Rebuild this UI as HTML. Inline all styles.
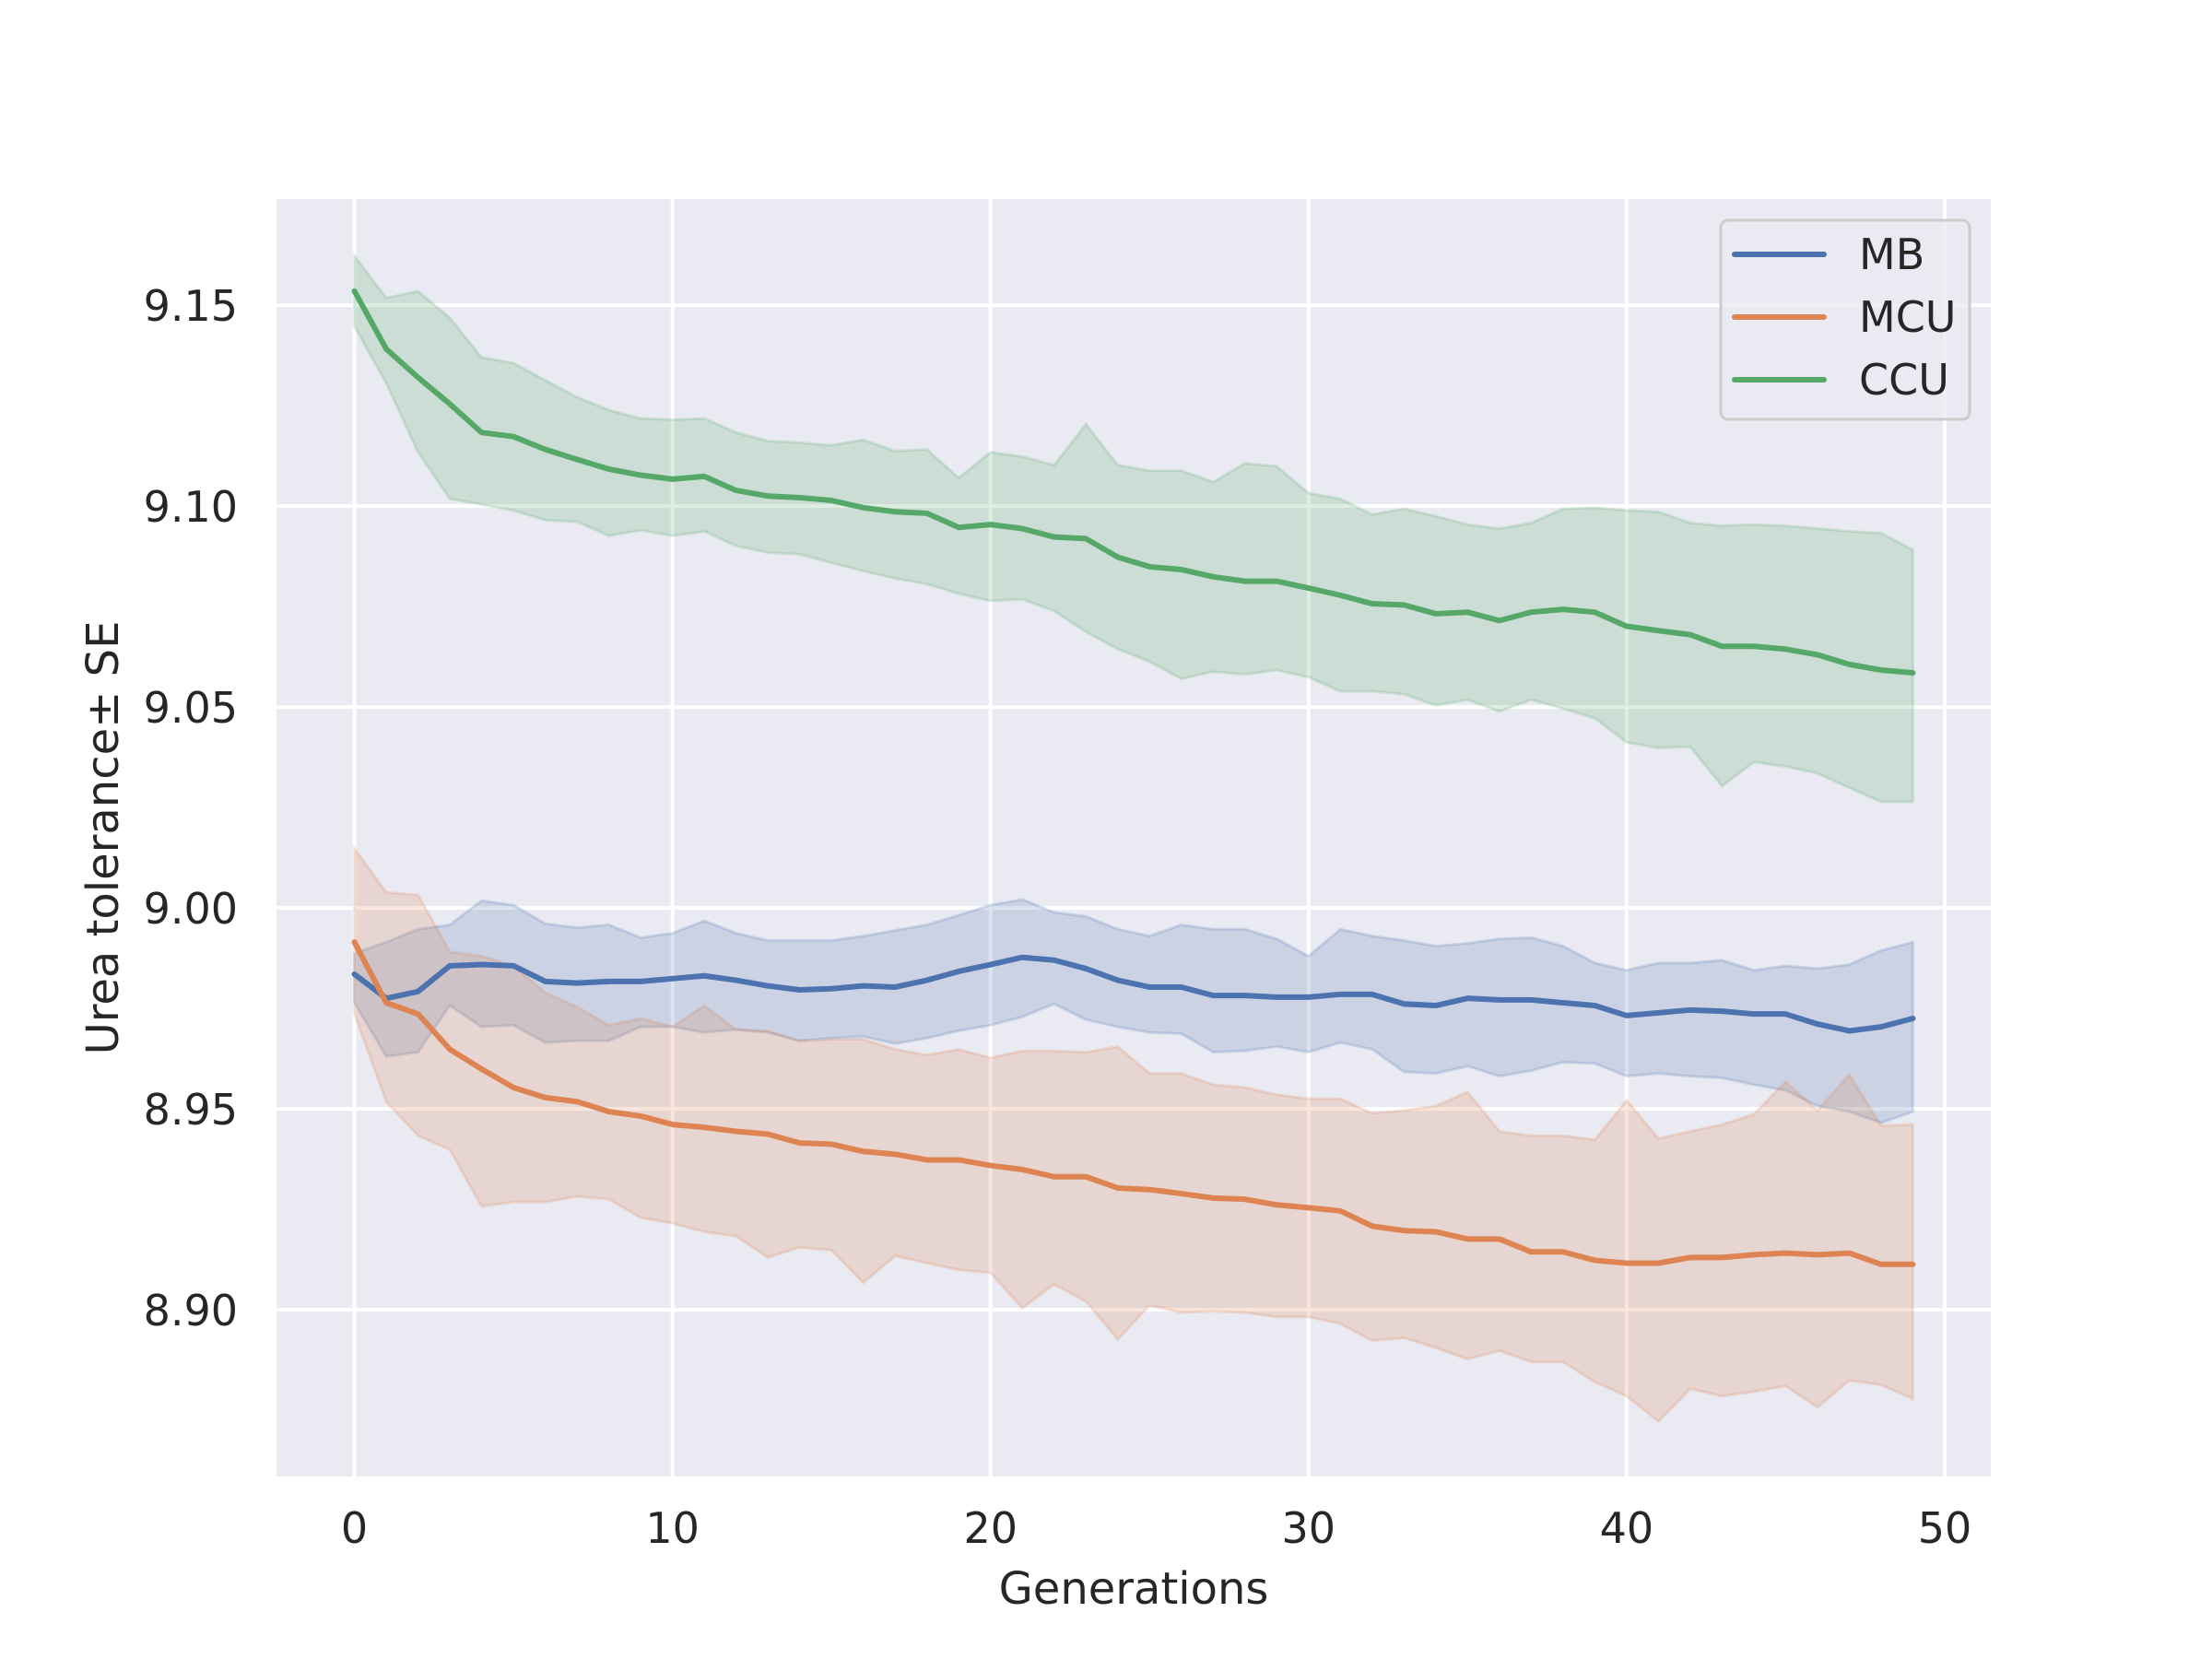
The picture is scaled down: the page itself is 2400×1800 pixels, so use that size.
<!DOCTYPE html>
<html><head><meta charset="utf-8"><style>
html,body{margin:0;padding:0;background:#fff;}
svg{display:block;font-family:"DejaVu Sans","Liberation Sans",sans-serif;}
</style></head><body>
<svg id="chart" width="2400" height="1800" viewBox="0 0 2400 1800" xmlns="http://www.w3.org/2000/svg">
<rect x="300" y="216" width="1860" height="1386" fill="#eaeaf2"/>
<g id="grid"></g><g id="bands"></g><g id="lines"></g><g id="ticks"></g>
<text x="1230" y="1740" font-size="48" fill="#262626" text-anchor="middle">Generations</text>
<text transform="translate(128,909) rotate(-90)" font-size="48" fill="#262626" text-anchor="middle">Urea tolerance± SE</text>
<g>
<rect x="1867" y="239" width="270" height="216" rx="8" fill="#eaeaf2" fill-opacity="0.8" stroke="#cccccc" stroke-width="3"/>
<line x1="1882" y1="276" x2="1979" y2="276" stroke="#4c72b0" stroke-width="6" stroke-linecap="round"/>
<text x="2017" y="292" font-size="46" fill="#262626">MB</text>
<line x1="1882" y1="344" x2="1979" y2="344" stroke="#dd8452" stroke-width="6" stroke-linecap="round"/>
<text x="2017" y="360" font-size="46" fill="#262626">MCU</text>
<line x1="1882" y1="412" x2="1979" y2="412" stroke="#55a868" stroke-width="6" stroke-linecap="round"/>
<text x="2017" y="428" font-size="46" fill="#262626">CCU</text>
</g>
</svg>
<script>
const xTicks=[0,10,20,30,40,50];
const yTicks=[8.90,8.95,9.00,9.05,9.10,9.15];
const yTickLabels=["8.90","8.95","9.00","9.05","9.10","9.15"];
const ccuMean=[9.1535,9.1391,9.1320,9.1254,9.1183,9.1173,9.1141,9.1116,9.1092,9.1077,9.1067,9.1074,9.1039,9.1025,9.1021,9.1014,9.0996,9.0986,9.0982,9.0947,9.0954,9.0944,9.0923,9.0919,9.0873,9.0849,9.0842,9.0824,9.0813,9.0813,9.0796,9.0778,9.0757,9.0754,9.0732,9.0736,9.0715,9.0736,9.0743,9.0736,9.0701,9.0690,9.0680,9.0651,9.0651,9.0644,9.0630,9.0606,9.0592,9.0585];
const ccuUpper=[9.1623,9.1518,9.1535,9.1468,9.1370,9.1356,9.1313,9.1271,9.1239,9.1218,9.1215,9.1218,9.1183,9.1162,9.1158,9.1151,9.1165,9.1137,9.1141,9.1070,9.1134,9.1123,9.1102,9.1204,9.1102,9.1088,9.1088,9.1060,9.1106,9.1099,9.1032,9.1018,9.0979,9.0993,9.0975,9.0954,9.0944,9.0958,9.0993,9.0996,9.0989,9.0986,9.0958,9.0951,9.0954,9.0951,9.0944,9.0937,9.0933,9.0891];
const ccuLower=[9.1447,9.1306,9.1134,9.1018,9.1004,9.0989,9.0965,9.0961,9.0926,9.0940,9.0926,9.0937,9.0901,9.0884,9.0880,9.0859,9.0838,9.0820,9.0806,9.0782,9.0764,9.0768,9.0739,9.0687,9.0644,9.0613,9.0570,9.0588,9.0581,9.0592,9.0574,9.0539,9.0539,9.0532,9.0504,9.0518,9.0489,9.0518,9.0496,9.0472,9.0412,9.0398,9.0401,9.0303,9.0363,9.0352,9.0335,9.0299,9.0264,9.0264];
const mbMean=[8.9835,8.9775,8.9792,8.9856,8.9859,8.9856,8.9817,8.9813,8.9817,8.9817,8.9824,8.9831,8.9820,8.9806,8.9796,8.9799,8.9806,8.9803,8.9820,8.9842,8.9859,8.9877,8.9870,8.9849,8.9820,8.9803,8.9803,8.9782,8.9782,8.9778,8.9778,8.9785,8.9785,8.9761,8.9757,8.9775,8.9771,8.9771,8.9764,8.9757,8.9732,8.9739,8.9746,8.9743,8.9736,8.9736,8.9711,8.9694,8.9704,8.9725];
const mbUpper=[8.9887,8.9915,8.9947,8.9958,9.0018,9.0007,8.9961,8.9951,8.9958,8.9926,8.9937,8.9968,8.9937,8.9919,8.9919,8.9919,8.9930,8.9944,8.9958,8.9982,9.0007,9.0021,8.9989,8.9979,8.9947,8.9930,8.9958,8.9947,8.9947,8.9923,8.9880,8.9947,8.9930,8.9919,8.9905,8.9912,8.9923,8.9926,8.9905,8.9863,8.9845,8.9863,8.9863,8.9870,8.9845,8.9856,8.9849,8.9859,8.9894,8.9915];
const mbLower=[8.9764,8.9630,8.9641,8.9757,8.9704,8.9708,8.9665,8.9669,8.9669,8.9704,8.9704,8.9690,8.9697,8.9690,8.9669,8.9676,8.9680,8.9662,8.9676,8.9694,8.9708,8.9729,8.9761,8.9722,8.9704,8.9690,8.9687,8.9641,8.9644,8.9655,8.9641,8.9665,8.9648,8.9592,8.9588,8.9606,8.9581,8.9595,8.9616,8.9613,8.9581,8.9588,8.9581,8.9577,8.9560,8.9546,8.9507,8.9493,8.9465,8.9493];
const mcuMean=[8.9915,8.9764,8.9736,8.9648,8.9599,8.9553,8.9528,8.9518,8.9493,8.9482,8.9461,8.9454,8.9444,8.9437,8.9415,8.9412,8.9394,8.9387,8.9373,8.9373,8.9359,8.9349,8.9331,8.9331,8.9303,8.9299,8.9289,8.9278,8.9275,8.9261,8.9254,8.9246,8.9208,8.9197,8.9194,8.9176,8.9176,8.9144,8.9144,8.9123,8.9116,8.9116,8.9130,8.9130,8.9137,8.9141,8.9137,8.9141,8.9113,8.9113];
const mcuUpper=[9.0148,9.0039,9.0032,8.9891,8.9880,8.9856,8.9789,8.9754,8.9708,8.9725,8.9704,8.9757,8.9697,8.9694,8.9669,8.9673,8.9673,8.9648,8.9634,8.9648,8.9627,8.9644,8.9644,8.9641,8.9655,8.9588,8.9588,8.9560,8.9553,8.9535,8.9525,8.9525,8.9489,8.9496,8.9507,8.9542,8.9444,8.9433,8.9433,8.9423,8.9521,8.9426,8.9444,8.9461,8.9486,8.9567,8.9496,8.9585,8.9458,8.9461];
const mcuLower=[8.9736,8.9518,8.9433,8.9398,8.9257,8.9268,8.9268,8.9282,8.9275,8.9229,8.9215,8.9194,8.9183,8.9130,8.9155,8.9148,8.9067,8.9134,8.9116,8.9099,8.9092,8.9004,8.9063,8.9021,8.8926,8.9011,8.8993,8.8996,8.8993,8.8982,8.8982,8.8965,8.8923,8.8930,8.8905,8.8877,8.8898,8.8870,8.8870,8.8820,8.8785,8.8722,8.8803,8.8785,8.8796,8.8810,8.8757,8.8824,8.8813,8.8778];

const NS='http://www.w3.org/2000/svg';
const L=300,R=2160,T=216,B=1602;
const xMin=-2.45,xMax=51.45,yMin=8.8585,yMax=9.1764;
function xs(v){return L+(v-xMin)/(xMax-xMin)*(R-L);}
function ys(v){return B-(v-yMin)/(yMax-yMin)*(B-T);}
function mk(tag,attrs,parent){const e=document.createElementNS(NS,tag);for(const k in attrs)e.setAttribute(k,attrs[k]);parent.appendChild(e);return e;}
const grid=document.getElementById('grid'),ticks=document.getElementById('ticks');
xTicks.forEach(t=>{
  const g=mk('line',{x1:xs(t),x2:xs(t),y1:T,y2:B,stroke:'#fff','stroke-width':4},grid);
  
  
  const tx=mk('text',{x:xs(t),y:1674,'font-size':46,fill:'#262626','text-anchor':'middle'},ticks);
  tx.textContent=String(t);
  
  
});
yTicks.forEach((t,i)=>{
  const g=mk('line',{x1:L,x2:R,y1:ys(t),y2:ys(t),stroke:'#fff','stroke-width':4},grid);
  
  
  const tx=mk('text',{x:258,y:ys(t)+17,'font-size':46,fill:'#262626','text-anchor':'end'},ticks);
  tx.textContent=yTickLabels[i];
  
  
});
const series=[
  {name:'mb',color:'#4c72b0',m:mbMean,u:mbUpper,l:mbLower},
  {name:'mcu',color:'#dd8452',m:mcuMean,u:mcuUpper,l:mcuLower},
  {name:'ccu',color:'#55a868',m:ccuMean,u:ccuUpper,l:ccuLower}
];
const bands=document.getElementById('bands'),lines=document.getElementById('lines');
series.forEach(s=>{
  let pts=s.u.map((v,i)=>xs(i)+','+ys(v));
  for(let i=s.l.length-1;i>=0;i--)pts.push(xs(i)+','+ys(s.l[i]));
  const p=mk('polygon',{points:pts.join(' '),fill:s.color,'fill-opacity':0.2,stroke:s.color,'stroke-opacity':0.2,'stroke-width':3},bands);
  
  
});
series.forEach(s=>{
  const pl=mk('polyline',{points:s.m.map((v,i)=>xs(i)+','+ys(v)).join(' '),fill:'none',stroke:s.color,'stroke-width':6,'stroke-linejoin':'round','stroke-linecap':'round'},lines);
  
  
});
</script>
</body></html>
